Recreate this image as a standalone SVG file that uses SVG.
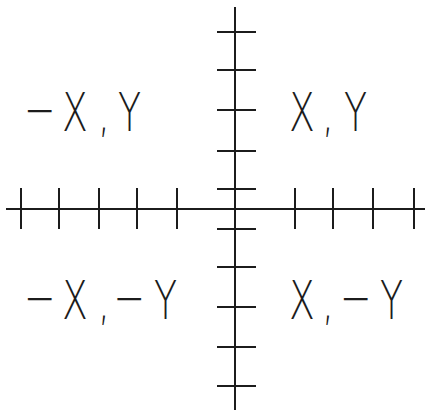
<svg xmlns="http://www.w3.org/2000/svg" width="425" height="416" viewBox="0 0 425 416">
<style>
.ax{stroke:#1c1c1c;stroke-width:2;fill:none;stroke-linecap:butt}
.lb{font-family:"DejaVu Sans","Liberation Sans",sans-serif;font-weight:200;font-size:54px;fill:#1c1c1c;text-anchor:middle}
</style>
<rect width="425" height="416" fill="#ffffff"/>
<g id="axes" class="ax">
<path d="M6 209H425M235 7V410"/>
</g>
<g id="ticks" class="ax">
<path d="M21 188V229M59 188V229M99 188V229M137 188V229M177 188V229M295 188V229M333 188V229M373 188V229M414 188V229"/>
<path d="M217 32H256M217 70H256M217 110H256M217 151H256M217 189H256M217 229H256M217 267H256M217 307H256M217 347H256M217 386H256"/>
</g>
<g id="label-q2" transform="scale(0.7 1)"><text class="lb" y="131"><tspan x="56.4" dy="-3">−</tspan><tspan x="107.1" dy="3">X</tspan><tspan x="148.6">,</tspan><tspan x="185">Y</tspan></text></g>
<g id="label-q1" transform="scale(0.7 1)"><text class="lb" x="431.4 468.6 507.9" y="131">X,Y</text></g>
<g id="label-q3" transform="scale(0.7 1)"><text class="lb" y="319"><tspan x="56.4" dy="-3">−</tspan><tspan x="107.1" dy="3">X</tspan><tspan x="148.6">,</tspan><tspan x="184.3" dy="-3">−</tspan><tspan x="236.4" dy="3">Y</tspan></text></g>
<g id="label-q4" transform="scale(0.7 1)"><text class="lb" y="319"><tspan x="431.4">X</tspan><tspan x="468.6">,</tspan><tspan x="507.9" dy="-3">−</tspan><tspan x="559.3" dy="3">Y</tspan></text></g>
</svg>
